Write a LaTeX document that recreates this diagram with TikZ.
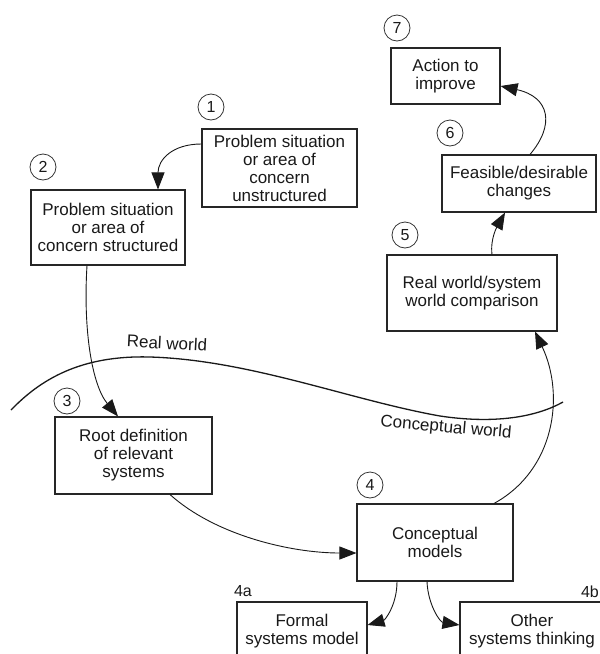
\documentclass[tikz,border=0pt]{standalone}
\usepackage{fontspec}
\setmainfont{Liberation Sans}
\usetikzlibrary{arrows.meta}
\begin{document}
\begin{tikzpicture}[x=1pt,y=-1pt,
  box/.style={draw=black!85, line width=1.1pt, align=center, inner sep=2pt,
    font=\fontsize{17}{18}\selectfont, text=black!90},
  num/.style={circle, draw=black!80, line width=0.8pt, minimum size=26pt,
    inner sep=0pt, font=\fontsize{16}{16}\selectfont, text=black!90},
  lab/.style={font=\fontsize{16}{16}\selectfont, text=black!90, inner sep=0pt},
  conn/.style={draw=black!90, line width=0.9pt, -{Triangle[length=17pt,width=13pt]}},
  worldlab/.style={font=\fontsize{17}{17}\selectfont, text=black!90, inner sep=0pt},
]
\useasboundingbox (0,0) rectangle (600,654);

% boxes
\node[box, minimum width=155pt, minimum height=78pt] (b1) at (279.5,168)
  {Problem situation\\or area of\\concern\\unstructured};
\node[box, minimum width=154pt, minimum height=75pt] (b2) at (108,227.5)
  {Problem situation\\or area of\\concern structured};
\node[box, minimum width=157pt, minimum height=77pt] (b3) at (133.5,455.5)
  {Root definition\\of relevant\\systems};
\node[box, minimum width=156pt, minimum height=77pt] (b4) at (435,542.5)
  {Conceptual\\models};
\node[box, minimum width=130pt, minimum height=58pt] (b4a) at (302,631)
  {Formal\\systems model};
\node[box, minimum width=144pt, minimum height=58pt] (b4b) at (532,631)
  {Other\\systems thinking};
\node[box, minimum width=170pt, minimum height=76pt] (b5) at (472,293)
  {Real world/system\\world comparison};
\node[box, minimum width=154pt, minimum height=57pt] (b6) at (519,183.5)
  {Feasible/desirable\\changes};
\node[box, minimum width=109pt, minimum height=56pt] (b7) at (445.5,76)
  {Action to\\improve};

% numbers
\node[num] (n1) at (211,107) {1};
\node[num] (n2) at (43,167) {2};
\node[num] (n3) at (67,401) {3};
\node[num] (n4) at (370,485) {4};
\node[num] (n5) at (405,235) {5};
\node[num] (n6) at (450,133) {6};
\node[num] (n7) at (397,28) {7};
\node[lab] (l4a) at (243,591) {4a};
\node[lab, anchor=east] (l4b) at (599,592) {4b};

% boundary between worlds
\draw[line width=1.3pt, black!90] (11,410) .. controls (40,380) and (80,355) .. (150,357)
  .. controls (250,360) and (350,400) .. (440,416)
  .. controls (500,425) and (540,415) .. (563,402);
\node[worldlab, rotate=-3] (rw) at (167,343) {Real world};
\node[worldlab, rotate=-5] (cw) at (446,428) {Conceptual world};

% connectors
\draw[conn] ([yshift=24pt]b1.west) .. controls (172,144) and (158,160) .. ([xshift=50pt]b2.north);
\draw[conn] ([xshift=-21pt]b2.south) .. controls (83,330) and (92,385) .. ([xshift=-15.5pt]b3.north);
\draw[conn] ([xshift=36.5pt]b3.south) .. controls (215,535) and (290,553) .. ([yshift=-10.5pt]b4.west);
\draw[conn] ([xshift=59pt]b4.north) .. controls (555,470) and (565,395) .. ([xshift=63pt]b5.south);
\draw[conn] ([xshift=20pt]b5.north) .. controls (490,238) and (498,225) .. ([xshift=-14pt]b6.south);
\draw[conn] ([xshift=11pt]b6.north) .. controls (555,125) and (550,97) .. ([yshift=-10pt]b7.east);
\draw[conn] ([xshift=-38pt]b4.south) .. controls (397,605) and (385,620) .. ([yshift=6pt]b4a.east);
\draw[conn] ([xshift=-8pt]b4.south) .. controls (428,605) and (440,622) .. ([yshift=6pt]b4b.west);
\end{tikzpicture}
\end{document}
